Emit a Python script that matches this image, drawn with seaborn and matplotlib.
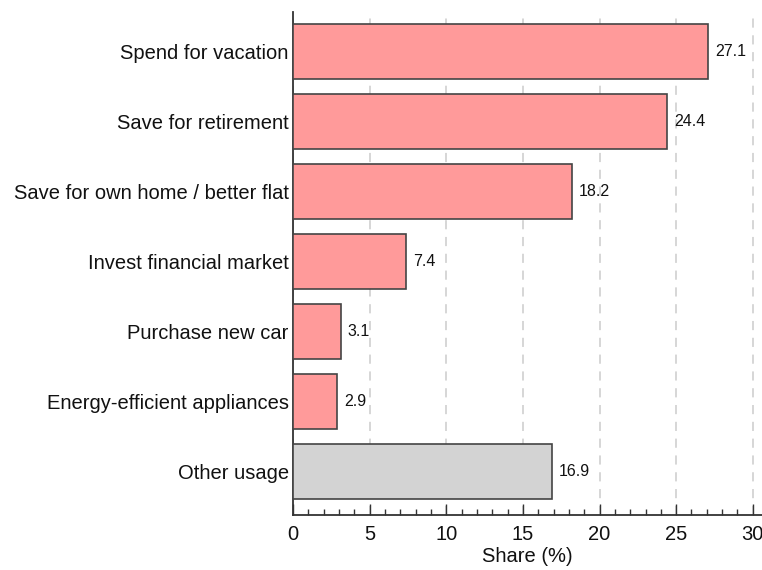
import pandas as pd
import matplotlib.pyplot as plt
import seaborn as sns
from matplotlib.ticker import MultipleLocator

categories = ["Spend for vacation", "Save for retirement", "Save for own home / better flat",
              "Invest financial market", "Purchase new car", "Energy-efficient appliances",
              "Other usage"]
shares = [27.1, 24.4, 18.2, 7.4, 3.1, 2.9, 16.9]
bar_colors = ["#ff9a9a"] * 6 + ["#d3d3d3"]

df = pd.DataFrame({"usage": categories, "share": shares})

sns.set_style("white")
plt.rcParams["font.family"] = ["Liberation Sans", "DejaVu Sans"]

fig = plt.figure(figsize=(7.62, 5.70), dpi=100)
ax = fig.add_axes([0.3845, 0.0965, 0.6155, 0.8825])

sns.barplot(data=df, x="share", y="usage", hue="usage", palette=bar_colors, legend=False,
            orient="h", width=0.79, edgecolor="#444444", linewidth=1.2, saturation=1, ax=ax,
            zorder=3)

for i, v in enumerate(shares):
    ax.text(v + 0.45, i, f"{v}", va="center", ha="left", fontsize=11.5, color="#111111")

ax.set_xlim(0, 30.6)
ax.set_ylim(6.62, -0.56)
ax.xaxis.set_major_locator(MultipleLocator(5))
ax.xaxis.set_minor_locator(MultipleLocator(1))
ax.tick_params(axis="x", which="both", bottom=True)
ax.tick_params(axis="x", which="major", direction="in", length=8, width=1, labelsize=14.5,
               color="#333333", pad=7, labelcolor="#111111")
ax.tick_params(axis="x", which="minor", direction="in", length=4, width=1, color="#333333")
ax.tick_params(axis="y", length=0, labelsize=14.5, pad=3, labelcolor="#111111")
ax.grid(axis="x", which="major", linestyle=(0, (6, 5)), color="#cccccc", linewidth=1.1, zorder=0)
ax.set_axisbelow(True)

for s in ["top", "right"]:
    ax.spines[s].set_visible(False)
for s in ["left", "bottom"]:
    ax.spines[s].set_color("#333333")
    ax.spines[s].set_linewidth(1.3)

ax.set_xlabel("Share (%)", fontsize=14.5, color="#111111", labelpad=2.5)
ax.set_ylabel("")

fig.savefig("out.png", dpi=100)
